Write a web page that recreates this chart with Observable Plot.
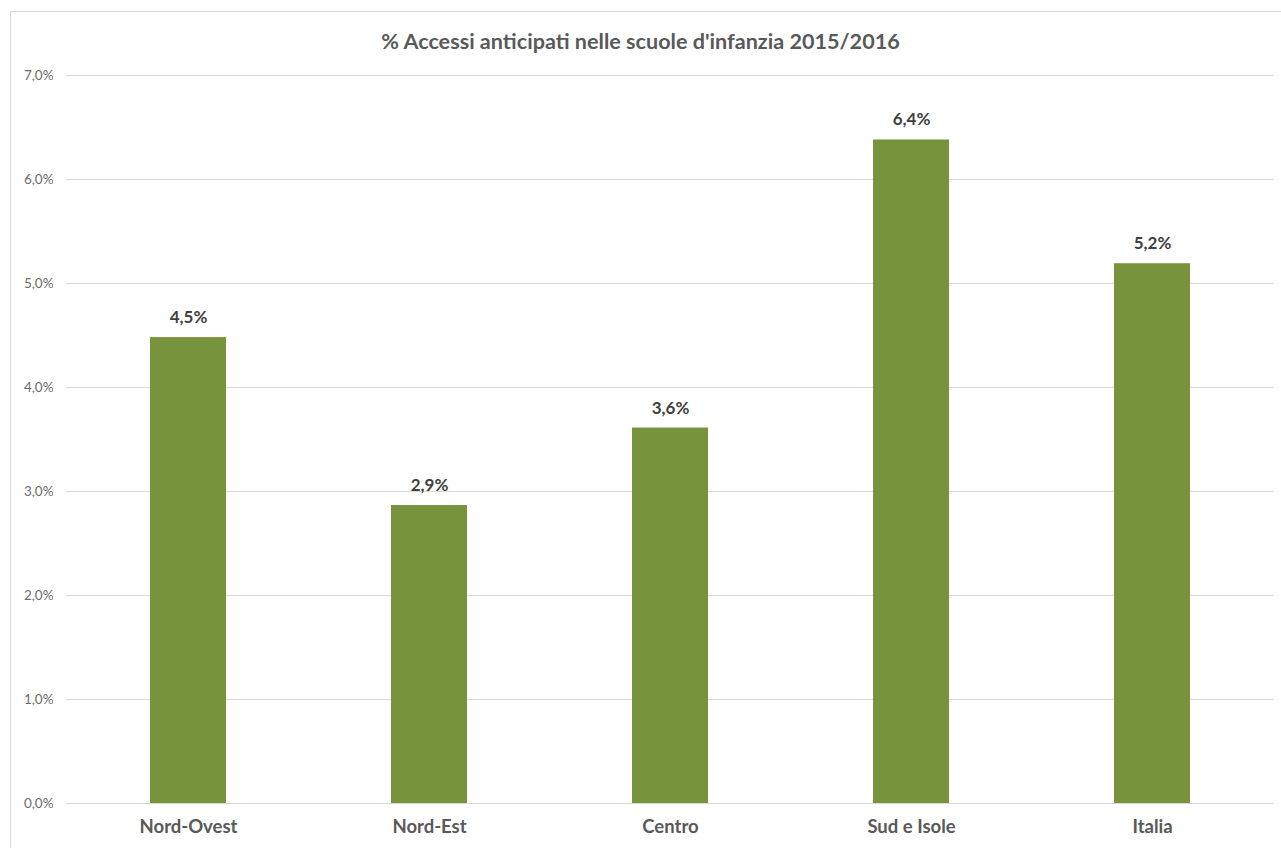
<!DOCTYPE html>
<html>
<head>
<meta charset="utf-8">
<script src="https://cdn.jsdelivr.net/npm/d3@7"></script>
<script src="https://cdn.jsdelivr.net/npm/@observablehq/plot@0.6"></script>
<style>
  html, body { margin: 0; padding: 0; background: #ffffff; overflow: hidden; }
  #frame { position: absolute; left: 10px; top: 11px; width: 1300px; height: 900px; border: 1px solid #d9d9d9; box-sizing: border-box; }
  #wrap { position: absolute; left: 0; top: 0; width: 1281px; }
  #title { height: 60px; box-sizing: border-box; padding-top: 30px; text-align: center; font-family: Lato, "Open Sans", sans-serif; font-weight: bold; font-size: 21.6px; color: #595959; line-height: 22px; }
  svg { display: block; }
</style>
</head>
<body>
<div id="frame"></div>
<div id="wrap">
  <div id="title">% Accessi anticipati nelle scuole d'infanzia 2015/2016</div>
  <div id="chart"></div>
</div>
<script>
const regions = ["Nord-Ovest", "Nord-Est", "Centro", "Sud e Isole", "Italia"];
const shares = [0.0448, 0.02865, 0.0361, 0.0638, 0.0519];
const yTicks = [0, 0.01, 0.02, 0.03, 0.04, 0.05, 0.06, 0.07];

const it = d3.formatLocale({decimal: ",", thousands: ".", grouping: [3], currency: ["", " €"]});
const pct = it.format(".1%");

const data = regions.map((r, i) => ({region: r, value: shares[i]}));

const chart = Plot.plot({
  width: 1281,
  height: 788,
  marginLeft: 66,
  marginRight: 7,
  marginTop: 15,
  marginBottom: 45,
  style: {fontFamily: "Lato, 'Open Sans', sans-serif", background: "transparent"},
  x: {domain: regions, paddingInner: 0.685, paddingOuter: 0.3425, label: null},
  y: {domain: [0, 0.07], label: null},
  marks: [
    Plot.gridY(yTicks, {stroke: "#d9d9d9", strokeOpacity: 1, strokeWidth: 1}),
    Plot.barY(data, {x: "region", y: "value", fill: "#77933c"}),
    Plot.text(data, {x: "region", y: "value", text: d => pct(d.value), dy: -20, fontSize: 17, fontWeight: "bold", fill: "#404040"}),
    Plot.axisY(yTicks, {tickFormat: pct, tickSize: 0, tickPadding: 13, fontSize: 13.5, fill: "#6b6b6b", label: null}),
    Plot.axisX({tickSize: 0, tickPadding: 16, fontSize: 18.5, fontWeight: "bold", fill: "#595959", label: null})
  ]
});
document.getElementById("chart").appendChild(chart);
</script>
</body>
</html>
